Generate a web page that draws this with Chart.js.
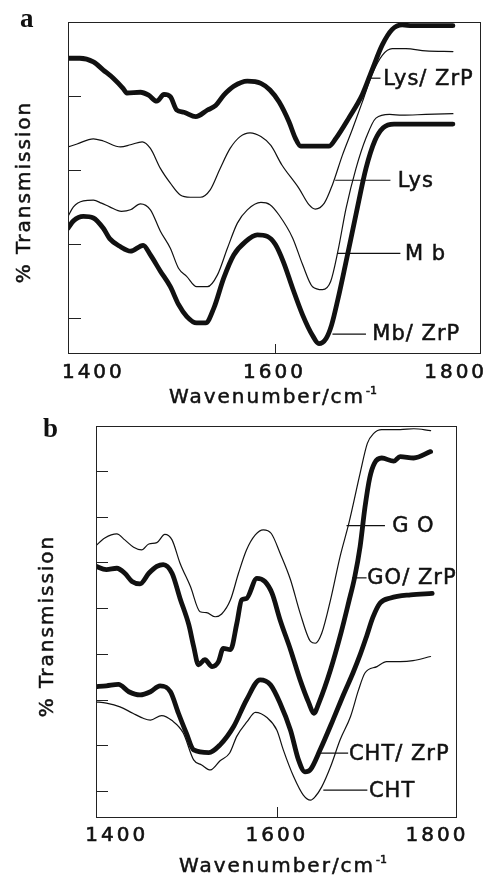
<!DOCTYPE html>
<html>
<head>
<meta charset="utf-8">
<script src="https://cdn.jsdelivr.net/npm/chart.js@4.4.1/dist/chart.umd.min.js"></script>
<style>
  html, body { margin: 0; padding: 0; background: #fff; }
  body { width: 490px; height: 880px; position: relative; overflow: hidden;
         font-family: "DejaVu Sans", sans-serif; color: #111; }
  canvas { position: absolute; left: 0; }
  .txt { position: absolute; white-space: nowrap; }
  .panel { font-family: "Liberation Serif", "DejaVu Serif", serif; font-weight: bold;
           font-size: 27px; line-height: 27px; }
  .xtitle { font-size: 20px; line-height: 20px; letter-spacing: 2px; transform: translateX(-50%);
            -webkit-text-stroke: 0.5px #111; }
  .xtitle sup { font-size: 11px; letter-spacing: 0; vertical-align: 0; position: relative; top: -9px; margin-left: 1px; }
  .ytitle { font-size: 20px; line-height: 20px; letter-spacing: 2px; -webkit-text-stroke: 0.5px #111;
            transform: translate(-50%, -50%) rotate(-90deg); }
</style>
</head>
<body>
<canvas id="chart-a" width="490" height="400" style="top:0"></canvas>
<canvas id="chart-b" width="490" height="470" style="top:410px"></canvas>

<div class="txt panel" style="left:20px;top:5px">a</div>
<div class="txt panel" style="left:43px;top:415px">b</div>
<div class="txt xtitle" style="left:273px;top:386px">Wavenumber/cm<sup>-1</sup></div>
<div class="txt xtitle" style="left:283px;top:855px">Wavenumber/cm<sup>-1</sup></div>
<div class="txt ytitle" style="left:23px;top:192px">% Transmission</div>
<div class="txt ytitle" style="left:46px;top:626px">% Transmission</div>

<script>
// IR spectra: [wavenumber (cm-1), transmission (arb. offset units)]
const xTickValues = [1400, 1600, 1800];
const xMarkedTicks = [1600];
const yTicksA = [1, 2, 3, 4];
const yTicksB = [1, 2, 3, 4, 5, 6, 7, 8];

// panel a
const lysZrp = [[1372,4.51],[1385,4.51],[1400,4.46],[1411,4.35],[1422,4.24],[1433,4.10],[1437,4.04],[1452,4.05],
  [1461,4.01],[1470,3.93],[1478,4.02],[1485,3.99],[1492,3.81],[1500,3.78],[1513,3.72],[1526,3.81],[1535,3.87],
  [1544,4.01],[1555,4.13],[1570,4.20],[1585,4.17],[1595,4.08],[1605,3.92],[1616,3.65],[1623,3.43],[1629,3.32],
  [1660,3.32],[1668,3.43],[1682,3.70],[1697,4.02],[1708,4.36],[1719,4.69],[1730,4.90],[1741,4.96],[1752,4.95],[1797,4.95]];
const lys = [[1372,3.31],[1382,3.35],[1400,3.42],[1411,3.39],[1430,3.31],[1441,3.34],[1454,3.38],[1463,3.29],
  [1474,3.02],[1485,2.82],[1496,2.66],[1507,2.63],[1518,2.63],[1529,2.73],[1540,3.02],[1551,3.29],[1562,3.45],
  [1573,3.50],[1585,3.45],[1596,3.33],[1608,3.07],[1627,2.75],[1638,2.53],[1645,2.47],[1655,2.55],[1664,2.80],
  [1675,3.20],[1686,3.55],[1697,3.92],[1708,4.30],[1719,4.55],[1730,4.64],[1745,4.64],[1767,4.61],[1797,4.60]];
const mb = [[1372,2.37],[1378,2.50],[1389,2.58],[1400,2.59],[1409,2.55],[1418,2.50],[1431,2.44],[1441,2.46],
  [1452,2.54],[1463,2.46],[1474,2.17],[1485,1.94],[1494,1.67],[1503,1.56],[1514,1.42],[1526,1.42],[1537,1.58],
  [1548,1.94],[1559,2.28],[1570,2.46],[1585,2.56],[1595,2.53],[1605,2.39],[1620,2.08],[1631,1.72],[1642,1.42],
  [1653,1.38],[1662,1.49],[1670,1.90],[1679,2.48],[1690,3.02],[1701,3.43],[1712,3.70],[1727,3.75],[1741,3.74],
  [1767,3.75],[1797,3.76]];
const mbZrp = [[1372,2.21],[1378,2.31],[1389,2.37],[1400,2.35],[1411,2.21],[1418,2.07],[1430,1.96],[1441,1.90],
  [1455,1.98],[1463,1.85],[1474,1.63],[1485,1.42],[1494,1.18],[1503,1.02],[1514,0.93],[1524,0.93],[1533,1.13],
  [1544,1.54],[1555,1.85],[1568,2.03],[1581,2.12],[1592,2.10],[1601,1.99],[1610,1.75],[1620,1.40],[1631,1.04],
  [1642,0.76],[1649,0.65],[1657,0.72],[1663,0.90],[1670,1.25],[1678,1.70],[1690,2.40],[1701,3.02],[1711,3.40],
  [1720,3.57],[1732,3.62],[1797,3.62]];

// panel b
const go = [[1373,6.35],[1385,6.53],[1400,6.62],[1410,6.49],[1421,6.33],[1431,6.27],[1440,6.40],[1450,6.43],
  [1460,6.61],[1469,6.49],[1479,5.98],[1492,5.47],[1504,4.92],[1512,4.90],[1523,4.81],[1531,4.87],[1542,5.18],
  [1552,5.76],[1562,6.27],[1573,6.60],[1583,6.71],[1593,6.63],[1604,6.20],[1617,5.62],[1629,4.89],[1642,4.27],
  [1648,4.23],[1656,4.45],[1667,5.18],[1679,6.13],[1690,6.86],[1704,7.95],[1713,8.60],[1721,8.82],[1731,8.90],
  [1754,8.90],[1771,8.92],[1792,8.88]];
const goZrp = [[1373,5.92],[1387,5.84],[1400,5.87],[1410,5.76],[1419,5.58],[1429,5.53],[1440,5.76],[1450,5.91],
  [1458,5.95],[1469,5.76],[1479,5.21],[1490,4.63],[1496,4.16],[1502,3.76],[1510,3.87],[1519,3.72],[1527,3.83],
  [1533,4.12],[1542,4.09],[1550,4.67],[1556,5.18],[1562,5.21],[1575,5.65],[1585,5.58],[1594,5.32],[1604,4.74],
  [1617,4.09],[1629,3.43],[1640,2.92],[1646,2.70],[1653,2.95],[1667,3.65],[1680,4.45],[1690,5.15],[1697,5.66],
  [1704,6.35],[1710,7.20],[1716,7.85],[1722,8.17],[1731,8.28],[1746,8.21],[1754,8.31],[1771,8.28],[1792,8.42]];
const chtZrp = [[1373,3.28],[1387,3.30],[1402,3.33],[1415,3.17],[1429,3.10],[1442,3.17],[1454,3.30],[1467,3.17],
  [1477,2.70],[1487,2.26],[1496,1.90],[1515,1.84],[1529,2.01],[1546,2.41],[1562,2.99],[1579,3.43],[1592,3.32],
  [1604,2.92],[1617,2.33],[1627,1.68],[1635,1.42],[1642,1.47],[1654,1.90],[1670,2.55],[1683,3.10],[1695,3.58],
  [1704,3.98],[1712,4.38],[1720,4.80],[1729,5.11],[1742,5.22],[1767,5.29],[1794,5.32]];
const cht = [[1373,2.95],[1387,2.92],[1404,2.84],[1420,2.70],[1433,2.59],[1442,2.55],[1456,2.65],[1469,2.54],
  [1483,2.27],[1496,1.68],[1506,1.57],[1517,1.46],[1529,1.66],[1541,1.83],[1550,2.20],[1563,2.52],[1573,2.72],
  [1588,2.60],[1600,2.33],[1608,1.90],[1621,1.31],[1633,0.91],[1642,0.80],[1648,0.88],[1656,1.09],[1667,1.53],
  [1679,2.12],[1692,2.63],[1702,3.21],[1710,3.58],[1725,3.72],[1737,3.83],[1754,3.83],[1770,3.85],[1792,3.94]];

// curve labels: leader from..to at height "at", text starting at textAt
const notesA = [
  { text: "Lys/ ZrP", from: 1704, to: 1717, at: 4.24, textAt: 1720 },
  { text: "Lys", from: 1667, to: 1728, at: 2.86, textAt: 1736 },
  { text: "M b", from: 1669, to: 1739, at: 1.87, textAt: 1744 },
  { text: "Mb/ ZrP", from: 1664, to: 1701, at: 0.78, textAt: 1708 },
];
const notesB = [
  { text: "G O", from: 1687, to: 1735, at: 6.80, textAt: 1744 },
  { text: "GO/ ZrP", from: 1694, to: 1712, at: 5.66, textAt: 1713 },
  { text: "CHT/ ZrP", from: 1650, to: 1689, at: 1.83, textAt: 1690 },
  { text: "CHT", from: 1658, to: 1713, at: 1.02, textAt: 1715 },
];

const FONT = '"DejaVu Sans", sans-serif';
const INK = "#111";

function dataset(pairs, thick) {
  return {
    data: pairs.map(([x, y]) => ({ x, y })),
    borderColor: INK,
    borderWidth: thick ? 4.8 : 1.2,
    pointRadius: 0,
    cubicInterpolationMode: "monotone",
    borderJoinStyle: "round",
    borderCapStyle: "round",
    fill: false,
  };
}

// frame, inward ticks and curve labels
const framePlugin = {
  id: "frame",
  beforeDraw(chart) {
    chart.ctx.letterSpacing = "3px"; // wide tick numerals
  },
  afterDatasetsDraw(chart, args, opts) {
    const { ctx, chartArea: a } = chart;
    const x = chart.scales.x, y = chart.scales.y;
    ctx.save();
    ctx.letterSpacing = "0px";
    ctx.strokeStyle = "#222";
    ctx.lineWidth = 1;
    ctx.strokeRect(Math.round(a.left) + 0.5, Math.round(a.top) + 0.5,
      Math.round(a.right - a.left) - 1, Math.round(a.bottom - a.top) - 1);
    ctx.beginPath();
    for (const t of y.ticks) {
      const py = Math.round(y.getPixelForValue(t.value)) + 0.5;
      ctx.moveTo(a.left, py);
      ctx.lineTo(a.left + opts.yTickLen, py);
    }
    for (const v of xMarkedTicks) {
      const px = Math.round(x.getPixelForValue(v)) + 0.5;
      ctx.moveTo(px, a.bottom);
      ctx.lineTo(px, a.bottom - opts.xTickLen);
    }
    ctx.stroke();

    ctx.strokeStyle = INK;
    ctx.fillStyle = INK;
    ctx.font = "21px " + FONT;
    ctx.textBaseline = "middle";
    ctx.textAlign = "left";
    ctx.letterSpacing = "1px";
    for (const n of opts.notes) {
      const py = y.getPixelForValue(n.at);
      ctx.lineWidth = 1.2;
      ctx.beginPath();
      ctx.moveTo(x.getPixelForValue(n.from), py);
      ctx.lineTo(x.getPixelForValue(n.to), py);
      ctx.stroke();
      const tx = x.getPixelForValue(n.textAt);
      ctx.fillText(n.text, tx, py + 1);
      ctx.lineWidth = 0.5;
      ctx.strokeText(n.text, tx, py + 1);
    }
    ctx.restore();
  },
};

function makePanel(id, series, cfg) {
  return new Chart(document.getElementById(id), {
    type: "line",
    data: { datasets: series.map((s) => dataset(s.pairs, s.thick)) },
    options: {
      responsive: false,
      animation: false,
      events: [],
      layout: { padding: cfg.padding },
      plugins: {
        legend: { display: false },
        tooltip: { enabled: false },
        frame: { yTickLen: cfg.yTickLen, xTickLen: cfg.xTickLen, notes: cfg.notes },
      },
      scales: {
        x: {
          type: "linear",
          min: cfg.xMin,
          max: cfg.xMax,
          afterBuildTicks: (s) => { s.ticks = xTickValues.map((v) => ({ value: v })); },
          afterFit: (s) => { s.height = 30; s.paddingLeft = 0; s.paddingRight = 0; },
          grid: { display: false, drawTicks: false },
          border: { display: false },
          ticks: {
            color: INK,
            font: { family: FONT, size: 20 },
            textStrokeColor: INK,
            textStrokeWidth: 0.6,
            padding: cfg.labelPad,
            maxRotation: 0,
            autoSkip: false,
            callback: (v) => String(v),
          },
        },
        y: {
          type: "linear",
          min: cfg.yMin,
          max: cfg.yMax,
          afterBuildTicks: (s) => { s.ticks = cfg.yTicks.map((v) => ({ value: v })); },
          afterFit: (s) => { s.width = 0; s.paddingTop = 0; s.paddingBottom = 0; },
          grid: { display: false, drawTicks: false },
          border: { display: false },
          ticks: { display: false },
        },
      },
    },
    plugins: [framePlugin],
  });
}

makePanel("chart-a", [
  { pairs: lysZrp, thick: true },
  { pairs: lys, thick: false },
  { pairs: mb, thick: false },
  { pairs: mbZrp, thick: true },
], {
  padding: { left: 68, top: 22, right: 9, bottom: 16 },
  xMin: 1372, xMax: 1828, yMin: 0.51, yMax: 5.0, yTicks: yTicksA,
  yTickLen: 13, xTickLen: 10, labelPad: 7, notes: notesA,
});

makePanel("chart-b", [
  { pairs: go, thick: false },
  { pairs: goZrp, thick: true },
  { pairs: chtZrp, thick: true },
  { pairs: cht, thick: false },
], {
  padding: { left: 96, top: 16, right: 33, bottom: 32 },
  xMin: 1374, xMax: 1825, yMin: 0.41, yMax: 8.98, yTicks: yTicksB,
  yTickLen: 12, xTickLen: 11, labelPad: 6, notes: notesB,
});
</script>
</body>
</html>
